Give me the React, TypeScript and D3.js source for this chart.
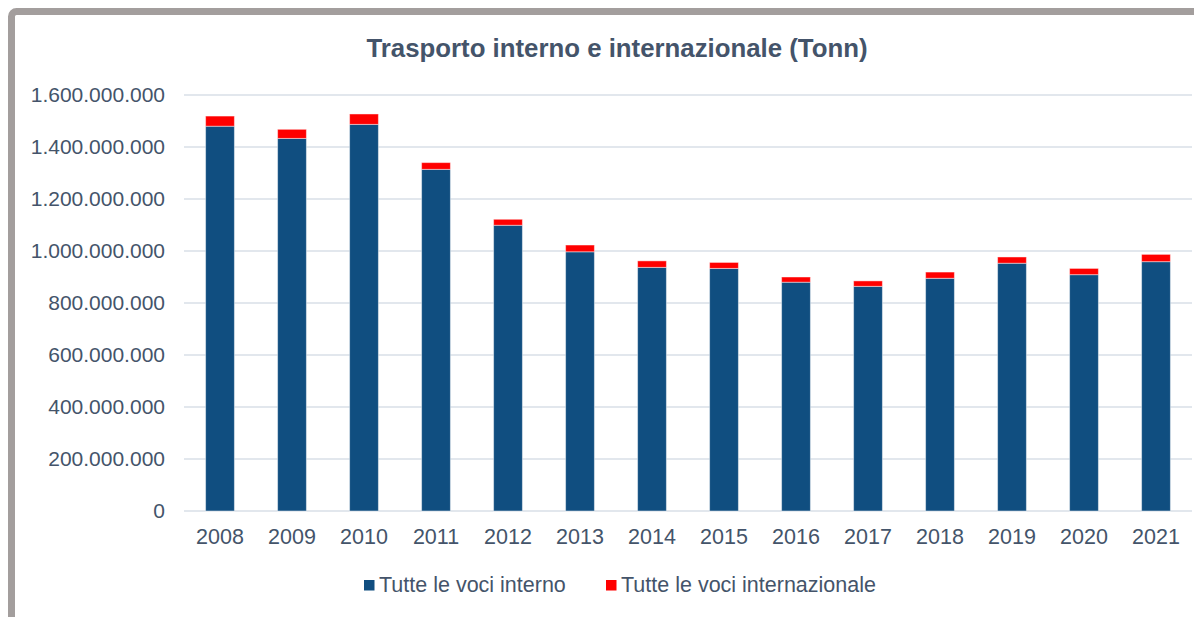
import React from "react";
import * as d3 from "d3";

const years = ["2008","2009","2010","2011","2012","2013","2014","2015","2016","2017","2018","2019","2020","2021"];
const interno = [1480e6,1433e6,1487e6,1314e6,1099e6,997e6,937e6,933e6,880e6,864e6,895e6,953e6,909e6,959e6];
const internazionale = [39e6,35e6,40e6,26e6,23e6,26e6,25e6,23e6,20e6,21e6,24e6,24e6,24e6,28e6];
const yTicks = [0,200e6,400e6,600e6,800e6,1000e6,1200e6,1400e6,1600e6];
const seriesNames = ["Tutte le voci interno","Tutte le voci internazionale"];
const colors = ["#104E80","#FF0000"];
const title = "Trasporto interno e internazionale (Tonn)";

const W = 1194, H = 609;
const ox = 8, oy = 8;
const left = 184 - ox, right = 1192 - ox, top = 95 - oy, bottom = 511 - oy;
const textColor = "#44546A";
const font = "'Liberation Sans', Arial, sans-serif";

function fmt(v: number) {
  if (v === 0) return "0";
  return d3.format(",")(v).replace(/,/g, ".");
}

export default function App() {
  const x = d3.scaleBand<string>().domain(years).range([left, right]).paddingInner(0.6).paddingOuter(0.3);
  const y = d3.scaleLinear().domain([0, 1600e6]).range([bottom, top]);
  const data = years.map((yr, i) => ({ yr, a: interno[i], b: internazionale[i] }));
  const bw = x.bandwidth();
  return (
    <svg width={W} height={H} style={{ display: "block" }}>
      <rect x={0} y={0} width={W} height={H} fill="#ffffff" />
      <rect x={3.5} y={3.5} width={W + 20} height={H + 20} rx={5} fill="none" stroke="#A39E9D" strokeWidth={7} />
      <text x={617 - ox} y={57 - oy} textAnchor="middle" fontFamily={font} fontWeight="bold" fontSize={25.8} fill={textColor}>{title}</text>
      {yTicks.map((t) => (
        <g key={t}>
          <line x1={left} x2={right} y1={y(t)} y2={y(t)} stroke="#D9DFE7" strokeWidth={1.5} />
          <text x={165 - ox} y={y(t)} dy="0.35em" textAnchor="end" fontFamily={font} fontSize={21} fill={textColor}>{fmt(t)}</text>
        </g>
      ))}
      {data.map((d) => {
        const x0 = x(d.yr)!;
        return (
          <g key={d.yr}>
            <rect x={x0} y={y(d.a)} width={bw} height={y(0) - y(d.a)} fill={colors[0]} stroke="rgba(255,255,255,0.45)" strokeWidth={1} />
            <rect x={x0} y={y(d.a + d.b)} width={bw} height={y(d.a) - y(d.a + d.b)} fill={colors[1]} stroke="rgba(255,255,255,0.45)" strokeWidth={1} />
            <text x={x0 + bw / 2} y={544 - oy} textAnchor="middle" fontFamily={font} fontSize={21.5} fill={textColor}>{d.yr}</text>
          </g>
        );
      })}
      {seriesNames.map((n, i) => {
        const lx = (i === 0 ? 364 : 606) - ox;
        return (
          <g key={n}>
            <rect x={lx} y={580 - oy} width={10.5} height={10.5} fill={colors[i]} />
            <text x={lx + 15} y={592 - oy} fontFamily={font} fontSize={21.5} fill={textColor}>{n}</text>
          </g>
        );
      })}
    </svg>
  );
}
